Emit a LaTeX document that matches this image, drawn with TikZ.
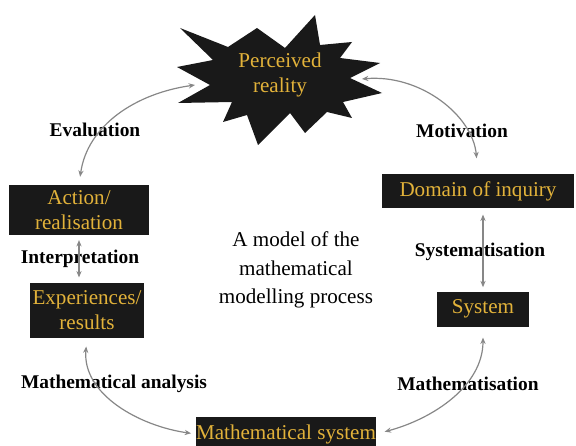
\documentclass[tikz,border=0pt]{standalone}
\usepackage{fontspec}
\setmainfont{Liberation Serif}
\usetikzlibrary{arrows.meta}

\definecolor{gold}{RGB}{226,178,58}
\definecolor{linkgray}{RGB}{135,135,135}

\tikzset{
  stage/.style={fill=black!90, text=gold, align=center, inner sep=0pt,
    font=\fontsize{15}{17.5}\selectfont},
  phase/.style={font=\bfseries\fontsize{13.8}{16}\selectfont},
  link/.style={draw=linkgray, line width=0.3mm,
    {Stealth[length=1.6mm,width=1.3mm]}-{Stealth[length=1.6mm,width=1.3mm]}}
}

\begin{document}
\begin{tikzpicture}[x=0.25mm,y=0.25mm]

    % Page frame (one unit is one pixel of the final image)
    \useasboundingbox (0,0) rectangle (576,445);
    \clip (0,0) rectangle (576,445);

    % The burst around the perceived reality
    \fill[black!90] (180,417) -- (228,398) -- (257,417) -- (285,397)
        -- (315,430) -- (320,400) -- (352,403) -- (340,387)
        -- (380,382) -- (350,367) -- (382,352) -- (343,343)
        -- (352,327) -- (327,333) -- (305,312) -- (290,332)
        -- (258,300) -- (247,330) -- (223,323) -- (232,343)
        -- (178,342) -- (210,360) -- (177,378) -- (213,385) -- cycle;
    \node[text=gold, align=center, font=\fontsize{15}{17.5}\selectfont]
        (real) at (280,370) {Perceived\\reality};

    % Where the two upper arrows meet the burst
    \coordinate (inL) at (195,360);
    \coordinate (inR) at (362,366);

    % The stages of the cycle (sizes in mm, 4 px per mm)
    \node[stage, minimum width=34.75mm, minimum height=12.5mm] (act) at (79,235) {Action/\\realisation};
    \node[stage, minimum width=28.5mm, minimum height=13.75mm] (exp) at (87,135) {Experiences/\\results};
    \node[stage, minimum width=48mm, minimum height=8.25mm] (dom) at (478,254) {Domain of inquiry};
    \node[stage, minimum width=23mm, minimum height=8.75mm] (sys) at (483,136) {System};
    \node[stage, minimum width=43.5mm, minimum height=8.5mm] (msys) at (286,11) {Mathematical system};

    % Names of the steps
    \node[phase] (eval) at (95,315) {Evaluation};
    \node[phase] (motiv) at (462,314) {Motivation};
    \node[phase] (interp) at (80,186) {Interpretation};
    \node[phase] (syst) at (480,193) {Systematisation};
    \node[phase] (anal) at (114,61) {Mathematical analysis};
    \node[phase] (mathis) at (468,61) {Mathematisation};

    % Title in the middle
    \node[align=center, font=\fontsize{15}{20.5}\selectfont] (title) at (296,175)
        {A model of the\\mathematical\\modelling process};

    % Arrows between the stages
    \draw[link, shorten <=2mm] (act.north) to[out=82, in=188] (inL);
    \draw[link, shorten >=4mm] (inR) to[out=5, in=95] (dom.north);
    \draw[link, shorten <=1.2mm, shorten >=1.2mm] (act.south) -- (act.south |- exp.north);
    \draw[link, shorten <=1.7mm, shorten >=1mm] (sys.north |- dom.south) -- (sys.north);
    \draw[link, shorten <=2.2mm, shorten >=1.2mm] (exp.south) to[out=-95, in=172] (msys.west);
    \draw[link, shorten <=2.7mm, shorten >=2.2mm] (sys.south) to[out=-90, in=15] (msys.east);

\end{tikzpicture}
\end{document}
